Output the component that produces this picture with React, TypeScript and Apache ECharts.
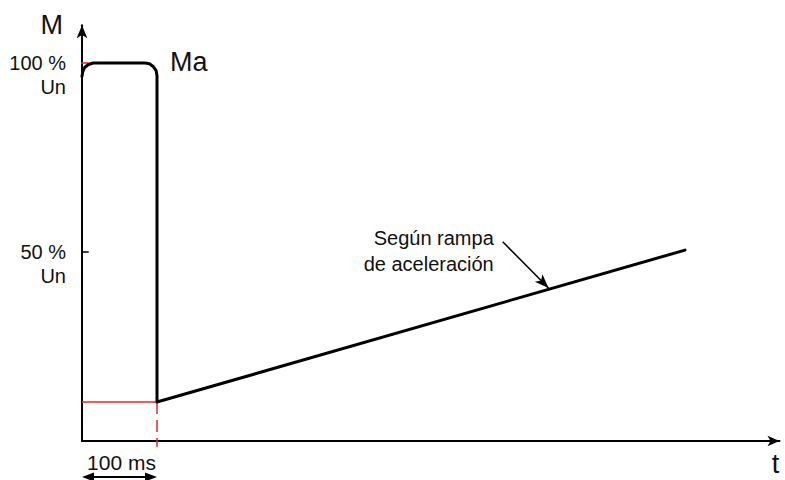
import React, { useEffect, useRef } from "react";
import * as echarts from "echarts";

// Torque curve (t in ms, M in % of nominal)
const torqueTime = [0, 1, 3.5, 8.5, 15, 84, 90, 95.3, 98.8, 100, 100, 804];
const torqueValue = [96.5, 97.7, 98.8, 99.6, 100, 100, 99.8, 99.0, 98.0, 96.6, 10.3, 50.5];
const yTickValues = [50, 100];
const yTickUnit = "Un";
const pulseTime = 100;
const startTorque = 10.3;
const noteText = "Según rampa\nde aceleración";
const noteFrom = [561, 52.7];
const noteTo = [622, 40.5];
const pulseLabel = "100 ms";
const yName = "M";
const xName = "t";
const curveName = "Ma";

const FONT = "Liberation Sans, Arial, sans-serif";
const RED = "#e8262b";

export default function App() {
  const ref = useRef<HTMLDivElement>(null);
  useEffect(() => {
    if (!ref.current) return;
    const chart = echarts.init(ref.current, undefined, { renderer: "svg" });
    const option: any = {
      animation: false,
      backgroundColor: "#ffffff",
      textStyle: { fontFamily: FONT },
      grid: { left: 82, top: 25.2, right: 5.5, bottom: 39, containLabel: false, outerBoundsMode: "none" },
      xAxis: {
        type: "value",
        min: 0,
        max: 930,
        axisLine: { show: true, symbol: ["none", "arrow"], symbolSize: [8, 12], lineStyle: { color: "#000", width: 2 } },
        axisTick: { show: false },
        axisLabel: { show: false },
        splitLine: { show: false },
      },
      yAxis: {
        type: "value",
        min: 0,
        max: 110,
        axisLine: { show: true, symbol: ["none", "arrow"], symbolSize: [8, 13], lineStyle: { color: "#000", width: 2 } },
        axisTick: { show: false },
        splitLine: { show: false },
        axisLabel: {
          show: true,
          customValues: yTickValues,
          margin: 16,
          color: "#111",
          fontSize: 20,
          lineHeight: 24,
          fontFamily: FONT,
          formatter: (v: number) => "\n" + v + " %\n" + yTickUnit,
        },
      },
      series: [
        {
          type: "line",
          data: [[0, startTorque], [pulseTime, startTorque]],
          showSymbol: false,
          silent: true,
          z: 1,
          lineStyle: { color: RED, width: 1.5 },
        },
        {
          type: "line",
          data: [[pulseTime, startTorque], [pulseTime, -1.5]],
          showSymbol: false,
          silent: true,
          clip: false,
          z: 1,
          lineStyle: { color: RED, width: 1.5, type: [12, 6] },
        },
        {
          type: "line",
          data: [[-10.5, 100], [9, 100]],
          showSymbol: false,
          silent: true,
          clip: false,
          z: 1,
          lineStyle: { color: RED, width: 1.5 },
        },
        {
          type: "line",
          data: [[-10.5, 50], [9, 50]],
          showSymbol: false,
          silent: true,
          clip: false,
          z: 1,
          lineStyle: { color: "#000", width: 1.5 },
        },
        {
          type: "line",
          data: torqueTime.map((t, i) => [t, torqueValue[i]]),
          showSymbol: false,
          silent: true,
          clip: false,
          z: 3,
          lineStyle: { color: "#000", width: 3, join: "round", cap: "round" },
          markLine: {
            silent: true,
            symbol: ["none", "arrow"],
            symbolSize: [8, 14],
            label: { show: false },
            lineStyle: { color: "#000", width: 1.5, type: "solid" },
            data: [[{ coord: noteFrom }, { coord: noteTo }]],
          },
        },
      ],
    };
    chart.setOption(option);

    const px = (p: number[]) => chart.convertToPixel({ gridIndex: 0 }, p) as number[];
    const origin = px([0, 0]);
    const top = px([0, 110]);
    const xEnd = px([930, 0]);
    const pulse = px([pulseTime, 0]);
    const maPt = px([pulseTime, 100]);
    const noteStart = px(noteFrom);
    const arrowY = origin[1] + 36;
    const head = 12;
    const hw = 4.5;

    chart.setOption({
      graphic: [
        {
          type: "text",
          x: origin[0] - 19,
          y: top[1],
          style: { text: yName, font: `27px ${FONT}`, fill: "#111", align: "right", verticalAlign: "middle" },
        },
        {
          type: "text",
          x: xEnd[0] - 4,
          y: origin[1] + 23,
          style: { text: xName, font: `27px ${FONT}`, fill: "#111", align: "center", verticalAlign: "middle" },
        },
        {
          type: "text",
          x: maPt[0] + 13,
          y: maPt[1] - 1,
          style: { text: curveName, font: `27px ${FONT}`, fill: "#111", align: "left", verticalAlign: "middle" },
        },
        {
          type: "text",
          x: noteStart[0] - 9,
          y: noteStart[1] + 9,
          style: { text: noteText, font: `20px ${FONT}`, lineHeight: 26, fill: "#111", align: "right", verticalAlign: "middle" },
        },
        {
          type: "text",
          x: (origin[0] + pulse[0]) / 2 + 2,
          y: origin[1] + 21,
          style: { text: pulseLabel, font: `21px ${FONT}`, fill: "#111", align: "center", verticalAlign: "middle" },
        },
        {
          type: "line",
          shape: { x1: origin[0] + head - 2, y1: arrowY, x2: pulse[0] - head + 2, y2: arrowY },
          style: { stroke: "#000", lineWidth: 2 },
        },
        {
          type: "polygon",
          shape: { points: [[origin[0], arrowY], [origin[0] + head, arrowY - hw], [origin[0] + head, arrowY + hw]] },
          style: { fill: "#000" },
        },
        {
          type: "polygon",
          shape: { points: [[pulse[0], arrowY], [pulse[0] - head, arrowY - hw], [pulse[0] - head, arrowY + hw]] },
          style: { fill: "#000" },
        },
      ],
    });

    return () => chart.dispose();
  }, []);
  return <div ref={ref} style={{ position: "fixed", left: 0, top: 0, width: 785, height: 480 }} />;
}
